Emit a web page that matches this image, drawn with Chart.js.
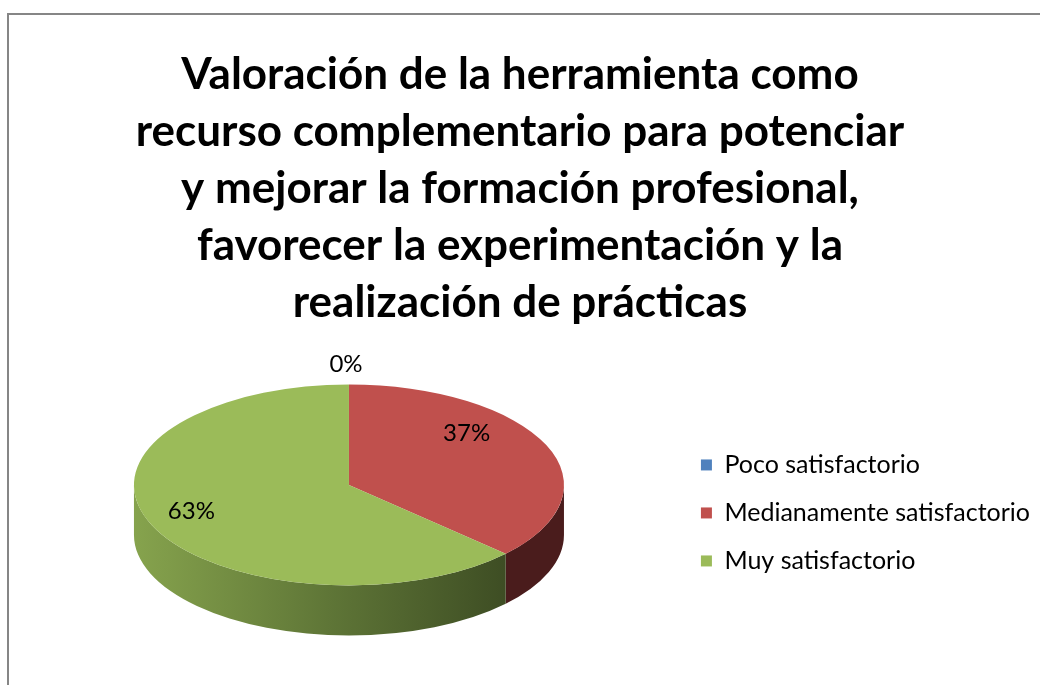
<!DOCTYPE html>
<html>
<head>
<meta charset="utf-8">
<script src="https://cdn.jsdelivr.net/npm/chart.js@4"></script>
<style>
  html, body { margin: 0; padding: 0; background: #fff; overflow: hidden; }
  #frame { position: absolute; left: 7px; top: 13px; width: 1200px; height: 900px; border: 2px solid #868686; }
  #chart { position: absolute; left: 0; top: 0; }
</style>
</head>
<body>
<div id="frame"></div>
<canvas id="chart" width="1040" height="685"></canvas>
<script>
const titleLines = [
  "Valoración de la herramienta como",
  "recurso complementario para potenciar",
  "y mejorar la formación profesional,",
  "favorecer la experimentación y la",
  "realización de prácticas"
];
const categories = ["Poco satisfactorio", "Medianamente satisfactorio", "Muy satisfactorio"];
const percents = [0, 37, 63];
const topColors = ["#4F81BD", "#C0504D", "#9BBB59"];

// 3d look: squash the pie vertically and draw the side wall under it
const TILT = 0.467;
const DEPTH = 50;
const SHIFT_X = 10;
const PIE_Y = 485;

const sideColors = [
  ["#3a5a80", "#22364f"],
  ["#6e2a29", "#4a1c1c"],
  ["#86a34d", "#3b4a22"]
];

function norm(a) {
  while (a < 0) a += Math.PI * 2;
  while (a >= Math.PI * 2) a -= Math.PI * 2;
  return a;
}

const pie3d = {
  id: "pie3d",
  beforeDatasetsDraw(chart) {
    const ctx = chart.ctx;
    const arcs = chart.getDatasetMeta(0).data;
    const cx = arcs[0].x, cy = arcs[0].y;
    ctx.save();
    ctx.translate(cx + SHIFT_X, PIE_Y);
    ctx.scale(1, TILT);
    ctx.translate(-cx, -cy);
    const d = DEPTH / TILT;
    arcs.forEach((arc, i) => {
      const r = arc.outerRadius;
      if (arc.circumference <= 0) return;
      // only the front half of the wall shows
      let s = norm(arc.startAngle), e = s + arc.circumference;
      const ranges = [];
      [[0, Math.PI], [Math.PI * 2, Math.PI * 3]].forEach(([lo, hi]) => {
        const a = Math.max(s, lo), b = Math.min(e, hi);
        if (b > a) ranges.push([a, b]);
      });
      ranges.forEach(([a, b]) => {
        let fill = sideColors[i][1];
        if (i === 2) {
          fill = ctx.createLinearGradient(cx - r, 0, cx + r, 0);
          fill.addColorStop(0, sideColors[i][0]);
          fill.addColorStop(0.45, "#5f7637");
          fill.addColorStop(0.9, sideColors[i][1]);
        }
        ctx.beginPath();
        ctx.arc(cx, cy, r, a, b);
        ctx.lineTo(cx + Math.cos(b) * r, cy + Math.sin(b) * r + d);
        ctx.arc(cx, cy + d, r, b, a, true);
        ctx.closePath();
        ctx.fillStyle = fill;
        ctx.fill();
      });
    });
  },
  afterDatasetsDraw(chart) {
    const ctx = chart.ctx;
    ctx.restore();
    const arcs = chart.getDatasetMeta(0).data;
    ctx.save();
    ctx.font = "24px Lato";
    ctx.fillStyle = "#000";
    ctx.textAlign = "center";
    ctx.textBaseline = "middle";
    arcs.forEach((arc, i) => {
      const r = arc.outerRadius;
      const mid = arc.startAngle + arc.circumference / 2;
      const cx = arc.x + SHIFT_X;
      let x, y;
      if (percents[i] === 0) {
        x = cx + Math.cos(mid) * r - 3;
        y = PIE_Y + Math.sin(mid) * r * TILT - 20;
      } else {
        const a = mid - 8 * Math.PI / 180;
        x = cx - 20 + Math.cos(a) * r * 0.75;
        y = PIE_Y - 13 + Math.sin(a) * r * 0.75 * TILT;
      }
      ctx.fillText(percents[i] + "%", x, y);
    });
    ctx.restore();
  }
};

new Chart(document.getElementById("chart"), {
  type: "pie",
  data: {
    labels: categories,
    datasets: [{
      data: percents,
      backgroundColor: topColors,
      borderWidth: 0,
      radius: 215
    }]
  },
  options: {
    responsive: false,
    animation: false,
    events: [],
    layout: { padding: 0 },
    plugins: {
      title: {
        display: true,
        text: titleLines,
        color: "#000",
        font: { family: "Lato", size: 44, weight: "bold", lineHeight: 1.295 },
        padding: { top: 46, bottom: 10 }
      },
      legend: {
        position: "right",
        fullSize: false,
        labels: {
          color: "#000",
          font: { family: "Lato", size: 25 },
          boxWidth: 11,
          boxHeight: 11,
          padding: 23
        }
      },
      tooltip: { enabled: false }
    }
  },
  plugins: [pie3d]
});
</script>
</body>
</html>
